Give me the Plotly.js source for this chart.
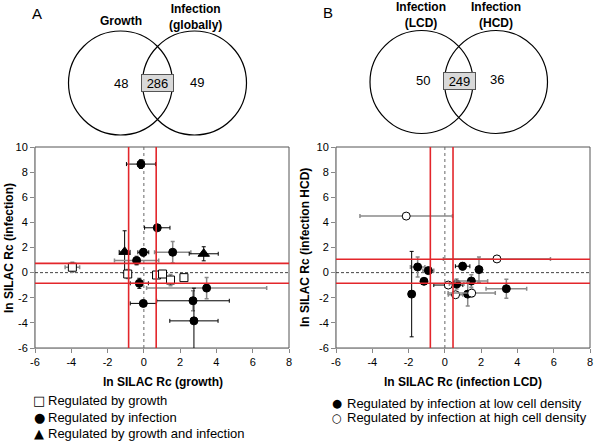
<!DOCTYPE html>
<html><head><meta charset="utf-8">
<script src="https://cdn.plot.ly/plotly-3.0.1.min.js"></script>
<style>html,body{margin:0;padding:0;background:#fff}</style>
</head><body><div id="chart" style="width:596px;height:443px"></div>
<script>
// ---------------- DATA : panel A ----------------
const growthA        = [-0.16, 0.74, -0.03, 1.59, -1.06, 3.30, -0.40, -3.94, -0.89, 0.70, 1.03, 1.47, 2.21, -0.25, 3.46, 2.71, -0.03, 2.76];
const infectionA     = [ 8.64, 3.57,  1.62, 1.62,  1.65, 1.50,  0.96,  0.43, -0.11, -0.19, -0.11, -0.59, -0.40, -0.85, -1.23, -2.24, -2.45, -3.84];
const growthErrA     = [ 0.80, 0.70,  0.30, 1.00,  0.30, 0.80,  1.22,  0.40,  0.15, 0.10, 0.10, 0.10, 0.00, 0.50, 3.31, 2.00, 0.72, 1.33];
const infectionErrA  = [ 0.35, 0.15,  0.30, 0.85,  1.68, 0.56,  0.35,  0.40,  0.35, 0.20, 0.25, 0.45, 0.00, 0.40, 0.85, 0.80, 0.15, 2.60];
const groupA         = ['infection','infection','infection','infection','both','both','infection','growth','growth','growth','growth','growth','growth','infection','infection','infection','infection','infection'];
const cutoffXA = [-0.84, 0.68];
const cutoffYA = [0.74, -0.85];
const vennCountsA = [48, 286, 49];
const vennSetsA = ['Growth', 'Infection<br>(globally)'];
const legendA = ['Regulated by growth', 'Regulated by infection', 'Regulated by growth and infection'];
const xTitleA = 'ln SILAC Rc (growth)';
const yTitleA = 'ln SILAC Rc (infection)';

// ---------------- DATA : panel B ----------------
const lcdB     = [-2.13, 2.87, -1.50, -0.91, -1.15, -1.83, 0.19, 0.65, 0.98, 1.88, 1.46, 0.59, 1.26, 1.48, 3.39];
const hcdB     = [ 4.50, 1.09,  0.45,  0.16, -0.69, -1.71, -0.99, -0.91, 0.51, 0.24, -0.67, -1.76, -1.71, -1.63, -1.28];
const lcdErrB  = [ 2.55, 2.95,  0.40,  0.30,  0.15,  0.05, 0.80, 0.40, 0.40, 0.10, 0.90, 0.40, 0.15, 1.30, 1.12];
const hcdErrB  = [ 0.10, 0.10,  0.80,  0.15,  0.15,  3.40, 0.10, 0.40, 0.30, 1.00, 0.50, 0.15, 0.95, 0.30, 0.75];
const groupB   = ['high','high','low','low','low','low','high','low','low','low','low','high','low','high','low'];
const cutoffXB = [-0.80, 0.45];
const cutoffYB = [1.06, -0.85];
const vennCountsB = [50, 249, 36];
const vennSetsB = ['Infection<br>(LCD)', 'Infection<br>(HCD)'];
const legendB = ['Regulated by infection at low cell density', 'Regulated by infection at high cell density'];
const xTitleB = 'ln SILAC Rc (infection LCD)';
const yTitleB = 'ln SILAC Rc (infection HCD)';

// ---------------- TICKS ----------------
const xTickVals = [-6, -4, -2, 0, 2, 4, 6, 8];
const xTickText = ['-6', '-4', '-2', '0', '2', '4', '6', '8'];
const yTickVals = [-6, -4, -2, 0, 2, 4, 6, 8, 10];
const yTickText = ['-6', '-4', '-2', '0', '2', '4', '6', '8', '10'];

// ---------------- STYLE ----------------
const W = 596, H = 443;
const px = v => v / W;
const py = v => 1 - v / H;
const FONT = 'Liberation Sans, Arial, sans-serif';
const SYM = 'DejaVu Sans, Liberation Sans, sans-serif';
const RED = '#e3262b';
const GREY = '#8a8a8a';
const blackXA = [0,1,2,4,5,13,15,16,17];
const blackYA = [0,1,2,4,5,13,16,17];
const blackXB = [6,8];
const blackYB = [5,8];

const markerStyle = {
  growth:    {symbol:'square', size:8, color:'#fff', line:{color:'#000', width:1}},
  infection: {symbol:'circle', size:8, color:'#000', line:{color:'#000', width:1}},
  both:      {symbol:'triangle-up', size:10, color:'#000', line:{color:'#000', width:1}},
  low:       {symbol:'circle', size:8, color:'#000', line:{color:'#000', width:1}},
  high:      {symbol:'circle', size:8, color:'#fff', line:{color:'#000', width:1}}
};

function buildTraces(xs, ys, ex, ey, groups, bx, by, xa, ya) {
  return xs.map((x, i) => ({
    type:'scatter', mode:'markers', x:[x], y:[ys[i]], xaxis:xa, yaxis:ya,
    showlegend:false, hoverinfo:'x+y',
    marker: markerStyle[groups[i]],
    error_x:{type:'data', array:[ex[i]], visible:ex[i] > 0, color: bx.includes(i) ? '#000' : GREY,
             thickness: bx.includes(i) ? 1 : 1.5, width:2},
    error_y:{type:'data', array:[ey[i]], visible:ey[i] > 0, color: by.includes(i) ? '#000' : GREY,
             thickness: by.includes(i) ? 1 : 1.5, width:2}
  }));
}

const traces = [
  ...buildTraces(growthA, infectionA, growthErrA, infectionErrA, groupA, blackXA, blackYA, 'x', 'y'),
  ...buildTraces(lcdB, hcdB, lcdErrB, hcdErrB, groupB, blackXB, blackYB, 'x2', 'y2')
];

function axisX(domain, anchor) {
  return {domain, anchor, range:[-6, 8], tickmode:'array', tickvals:xTickVals, ticktext:xTickText,
    ticks:'outside', ticklen:4, tickcolor:'#888',
    showline:true, linecolor:'#999', linewidth:1, showgrid:false, zeroline:false,
    tickfont:{family:FONT, size:11, color:'#000'}, fixedrange:true};
}
function axisY(domain, anchor) {
  return {domain, anchor, range:[-6, 10], tickmode:'array', tickvals:yTickVals, ticktext:yTickText,
    ticks:'outside', ticklen:4, tickcolor:'#888',
    showline:true, linecolor:'#999', linewidth:1, showgrid:false, zeroline:false,
    tickfont:{family:FONT, size:11, color:'#000'}, fixedrange:true};
}

function panelShapes(xr, yr, cx, cy) {
  const s = [];
  s.push({type:'rect', xref:xr+' domain', yref:yr+' domain', x0:0, x1:1, y0:0, y1:1, line:{color:'#555', width:1}, layer:'below'});
  s.push({type:'line', xref:xr, yref:yr+' domain', x0:0, x1:0, y0:0, y1:1, line:{color:'#666', width:1, dash:'dot'}, layer:'below'});
  s.push({type:'line', xref:xr+' domain', yref:yr, x0:0, x1:1, y0:0, y1:0, line:{color:'#444', width:1, dash:'3px,2px'}, layer:'below'});
  cx.forEach(v => s.push({type:'line', xref:xr, yref:yr+' domain', x0:v, x1:v, y0:0, y1:1, line:{color:RED, width:1.6}}));
  cy.forEach(v => s.push({type:'line', xref:xr+' domain', yref:yr, x0:0, x1:1, y0:v, y1:v, line:{color:RED, width:1.6}}));
  return s;
}

function circle(cxp, cyp, r) {
  return {type:'circle', xref:'paper', yref:'paper', x0:px(cxp - r), x1:px(cxp + r), y0:py(cyp + r), y1:py(cyp - r),
          line:{color:'#000', width:1.2}, fillcolor:'rgba(0,0,0,0)'};
}

const shapes = [
  ...panelShapes('x', 'y', cutoffXA, cutoffYA),
  ...panelShapes('x2', 'y2', cutoffXB, cutoffYB),
  circle(120.5, 83, 52), circle(194.5, 83, 52),
  circle(421.5, 82, 51.5), circle(496, 82, 51.5)
];

function ann(text, x, y, opts) {
  return Object.assign({text, xref:'paper', yref:'paper', x:px(x), y:py(y), showarrow:false,
    xanchor:'center', yanchor:'middle', font:{family:FONT, size:12, color:'#000'}}, opts || {});
}
function countBox(text, x, y) {
  return ann(String(text), x, y, {bgcolor:'#d9d9d9', bordercolor:'#555', borderwidth:1, borderpad:0,
    width:31, height:16, font:{family:FONT, size:13, color:'#000'}});
}

const annotations = [
  ann('A', 37, 13, {font:{family:FONT, size:15, color:'#000'}}),
  ann('B', 328, 12, {font:{family:FONT, size:15, color:'#000'}}),
  ann('<b>' + vennSetsA[0] + '</b>', 121, 21),
  ann('<b>' + vennSetsA[1].replace('<br>', '</b><br><b>') + '</b>', 195, 17),
  ann(String(vennCountsA[0]), 120.5, 83, {font:{family:FONT, size:13, color:'#000'}}),
  countBox(vennCountsA[1], 157.5, 83),
  ann(String(vennCountsA[2]), 196.5, 82, {font:{family:FONT, size:13, color:'#000'}}),
  ann('<b>' + vennSetsB[0].replace('<br>', '</b><br><b>') + '</b>', 421, 15),
  ann('<b>' + vennSetsB[1].replace('<br>', '</b><br><b>') + '</b>', 496, 15),
  ann(String(vennCountsB[0]), 422.5, 81, {font:{family:FONT, size:13, color:'#000'}}),
  countBox(vennCountsB[1], 459.3, 81),
  ann(String(vennCountsB[2]), 497.5, 80, {font:{family:FONT, size:13, color:'#000'}}),
  // axis titles
  ann('<b>' + xTitleA + '</b>', 163, 382),
  ann('<b>' + yTitleA + '</b>', 9, 248, {textangle:-90}),
  ann('<b>' + xTitleB + '</b>', 463, 382),
  ann('<b>' + yTitleB + '</b>', 305, 248, {textangle:-90}),
];

// legends
const symA = ['□', '●', '▲'];
const legYA = [400, 417, 433];
legendA.forEach((t, i) => {
  annotations.push(ann(symA[i], 39, legYA[i], {font:{family:SYM, size:13, color:'#000'}}));
  annotations.push(ann(t, 46, legYA[i], {xanchor:'left', font:{family:FONT, size:13, color:'#000'}}));
});
const symB = ['●', '○'];
const legYB = [403, 417.5];
legendB.forEach((t, i) => {
  annotations.push(ann(symB[i], 337, legYB[i], {font:{family:SYM, size:11.5, color:'#000'}}));
  annotations.push(ann(t, 345, legYB[i], {xanchor:'left', font:{family:FONT, size:13, color:'#000'}}));
});

const layout = {
  width:W, height:H, margin:{l:0, r:0, t:0, b:0},
  paper_bgcolor:'#fff', plot_bgcolor:'#fff', showlegend:false,
  font:{family:FONT, size:11, color:'#000'},
  xaxis: axisX([px(35), px(289)], 'y'),
  yaxis: axisY([py(348), py(147)], 'x'),
  xaxis2: axisX([px(336), px(590)], 'y2'),
  yaxis2: axisY([py(348), py(147)], 'x2'),
  shapes, annotations
};

Plotly.newPlot('chart', traces, layout, {displayModeBar:false, staticPlot:true});
</script></body></html>
